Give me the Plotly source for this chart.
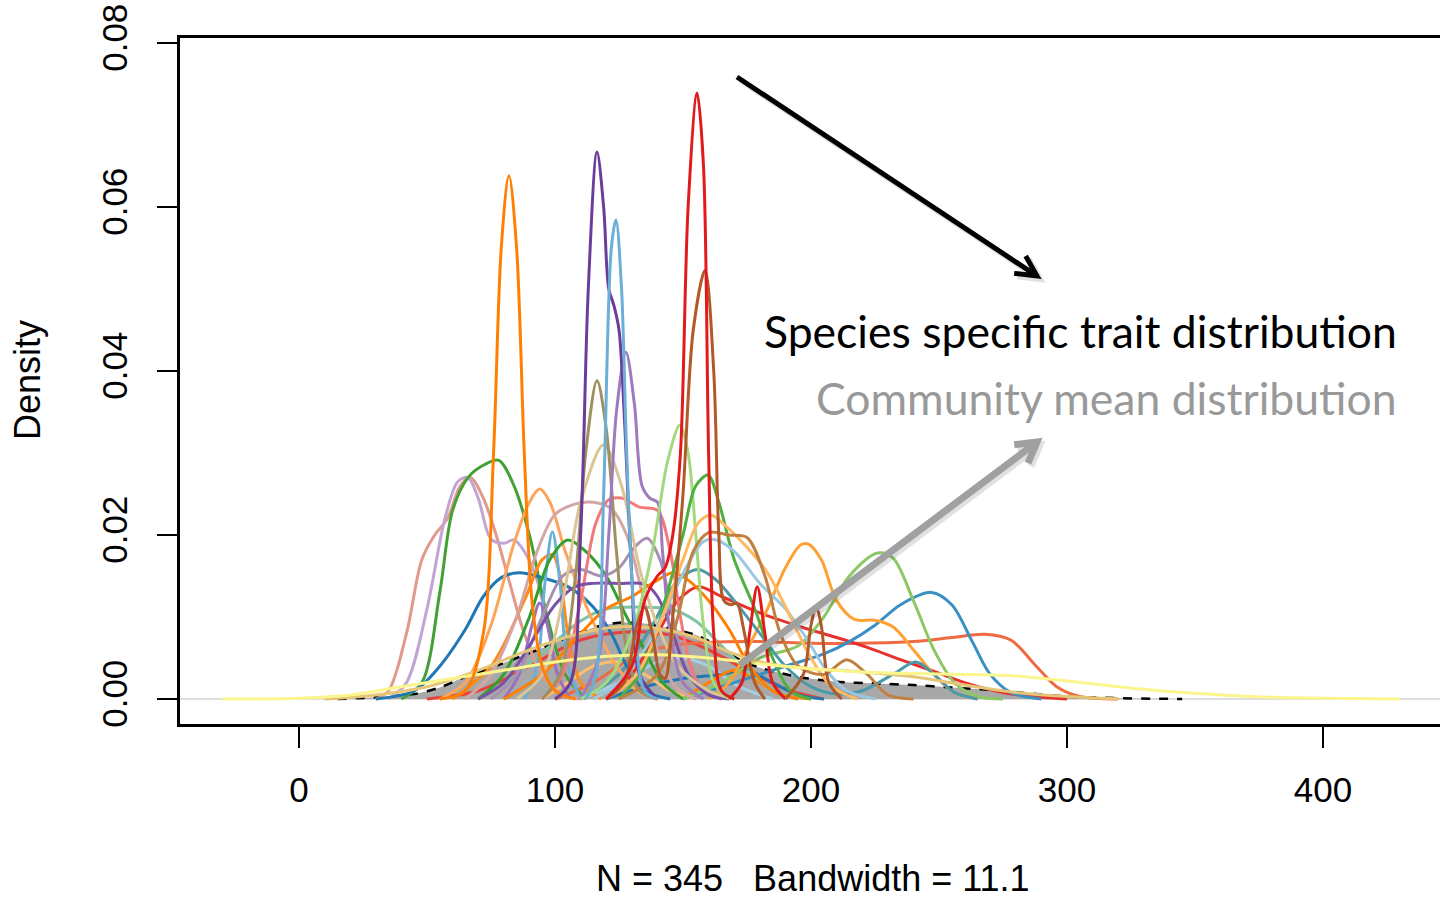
import math
import plotly.graph_objects as go

# ---------------- data ----------------
x_ticks = [0, 100, 200, 300, 400]
x_tick_labels = ["0", "100", "200", "300", "400"]
y_ticks = [0.0, 0.02, 0.04, 0.06, 0.08]
y_tick_labels = ["0.00", "0.02", "0.04", "0.06", "0.08"]

community_x = [15, 30, 45, 55, 65, 75, 85, 95, 105, 115, 125, 135, 145, 155, 163, 171, 180, 195, 210, 225, 240, 255, 270, 285, 300, 320, 345]
community_y = [0, 0.0002, 0.0006, 0.0014, 0.0027, 0.0038, 0.005, 0.0062, 0.0075, 0.0087, 0.0093, 0.0092, 0.0086, 0.0078, 0.0066, 0.005, 0.0038, 0.0027, 0.0021, 0.0019, 0.0017, 0.0014, 0.0011, 0.0007, 0.0003, 0.0001, 0]

yellow_x = [-30, 0, 20, 40, 60, 80, 100, 120, 140, 160, 180, 200, 220, 240, 260, 280, 300, 320, 340, 360, 380, 400, 430]
yellow_y = [0, 0.0001, 0.0005, 0.0015, 0.0025, 0.0035, 0.0045, 0.0052, 0.0054, 0.005, 0.0043, 0.0037, 0.0033, 0.0031, 0.003, 0.0028, 0.0022, 0.0015, 0.0009, 0.0005, 0.0002, 0.0001, 0]

tangold_x = [10, 30, 50, 70, 90, 110, 125, 140, 155, 170, 185, 200, 220, 240, 260, 280, 300, 320]
tangold_y = [0, 0.0005, 0.0015, 0.0035, 0.006, 0.008, 0.0088, 0.0086, 0.0075, 0.0055, 0.0042, 0.0037, 0.0033, 0.0027, 0.0017, 0.0008, 0.0003, 0]

redorange_x = [100, 115, 130, 145, 160, 180, 200, 220, 240, 255, 268, 278, 288, 296, 305, 320]
redorange_y = [0, 0.002, 0.005, 0.0065, 0.0069, 0.007, 0.0068, 0.0068, 0.007, 0.0075, 0.0079, 0.0072, 0.004, 0.0015, 0.0003, 0]

redlow_x = [50, 70, 90, 110, 130, 145, 160, 175, 190, 205]
redlow_y = [0, 0.001, 0.004, 0.0072, 0.0082, 0.0078, 0.006, 0.0035, 0.0012, 0]

redbroad_x = [120, 130, 140, 148, 156, 165, 180, 196, 210, 222, 235, 247, 260, 275, 290, 300]
redbroad_y = [0, 0.003, 0.008, 0.012, 0.0137, 0.0125, 0.0105, 0.0088, 0.0075, 0.0063, 0.0048, 0.0035, 0.002, 0.0008, 0.0002, 0]

blue247_x = [150, 170, 190, 205, 215, 225, 235, 247, 255, 263, 270, 278, 290]
blue247_y = [0, 0.002, 0.004, 0.0055, 0.007, 0.009, 0.0115, 0.013, 0.0115, 0.007, 0.003, 0.0008, 0]

lgreen226_x = [150, 165, 180, 195, 205, 215, 226, 232, 240, 248, 256, 265, 275]
lgreen226_y = [0, 0.002, 0.005, 0.0065, 0.01, 0.015, 0.0178, 0.0172, 0.012, 0.006, 0.002, 0.0003, 0]

orange199_x = [160, 168, 175, 183, 190, 196, 199, 204, 210, 217, 225, 232, 240, 248, 256, 265]
orange199_y = [0, 0.002, 0.006, 0.011, 0.016, 0.0188, 0.0189, 0.017, 0.012, 0.0097, 0.0096, 0.0088, 0.006, 0.003, 0.0008, 0]

teal_x = [110, 125, 138, 148, 156, 163, 170, 180, 190, 200, 210, 220, 232, 241, 248, 256, 265]
teal_y = [0, 0.003, 0.009, 0.0145, 0.0158, 0.0145, 0.012, 0.008, 0.004, 0.0015, 0.0006, 0.001, 0.003, 0.0045, 0.003, 0.0008, 0]

seafoam_x = [70, 85, 100, 110, 120, 135, 145, 155, 165, 175, 185, 195]
seafoam_y = [0, 0.003, 0.007, 0.0095, 0.011, 0.0112, 0.011, 0.0095, 0.0065, 0.0035, 0.0012, 0]

salmon_x = [30, 35, 42, 48, 53, 58, 63, 67, 72, 77, 82, 88, 95, 103, 110]
salmon_y = [0, 0.001, 0.008, 0.017, 0.02, 0.022, 0.026, 0.027, 0.0245, 0.02, 0.0145, 0.008, 0.003, 0.0005, 0]

lavender_x = [35, 42, 50, 57, 62, 66, 70, 75, 80, 84, 88, 93, 98, 104, 112]
lavender_y = [0, 0.002, 0.011, 0.022, 0.0265, 0.027, 0.0245, 0.0195, 0.019, 0.0194, 0.018, 0.0145, 0.008, 0.003, 0]

green78_x = [40, 48, 55, 60, 66, 72, 78, 84, 90, 97, 104, 112]
green78_y = [0, 0.002, 0.013, 0.023, 0.027, 0.0285, 0.0291, 0.026, 0.02, 0.01, 0.003, 0]

blue86_x = [30, 45, 55, 65, 72, 79, 86, 95, 105, 115, 122, 128, 135, 145]
blue86_y = [0, 0.001, 0.004, 0.0085, 0.0125, 0.0148, 0.0154, 0.0148, 0.0137, 0.0112, 0.008, 0.004, 0.001, 0]

peach94_x = [55, 65, 75, 84, 90, 94, 98, 104, 110, 117, 124, 132, 140]
peach94_y = [0, 0.002, 0.009, 0.019, 0.024, 0.0256, 0.024, 0.018, 0.013, 0.008, 0.004, 0.001, 0]

orange99_x = [60, 75, 88, 95, 99, 102, 105, 110, 118]
orange99_y = [0, 0.004, 0.012, 0.017, 0.0176, 0.015, 0.008, 0.002, 0]

ltblue99_x = [88, 93, 96, 99, 102, 105, 110]
ltblue99_y = [0, 0.004, 0.014, 0.0204, 0.014, 0.004, 0]

purple94_x = [80, 86, 91, 94, 97, 101, 106]
purple94_y = [0, 0.003, 0.009, 0.0117, 0.009, 0.003, 0]

green105_x = [70, 80, 90, 98, 105, 112, 120, 128, 135, 142, 150]
green105_y = [0, 0.003, 0.01, 0.017, 0.0194, 0.018, 0.015, 0.01, 0.006, 0.002, 0]

dustypink_x = [65, 75, 85, 93, 100, 108, 115, 122, 128, 134, 140, 147, 155]
dustypink_y = [0, 0.003, 0.01, 0.018, 0.0225, 0.0238, 0.024, 0.0232, 0.02, 0.013, 0.006, 0.0015, 0]

pinkred_x = [95, 103, 110, 116, 121, 126, 133, 140, 145, 149, 153, 158, 165]
pinkred_y = [0, 0.003, 0.012, 0.0215, 0.0243, 0.0245, 0.0234, 0.023, 0.018, 0.01, 0.004, 0.001, 0]

graypurple_x = [75, 85, 95, 103, 110, 118, 125, 131, 136, 141, 146, 151, 158, 165]
graypurple_y = [0, 0.003, 0.01, 0.015, 0.0158, 0.015, 0.016, 0.0185, 0.0196, 0.017, 0.01, 0.004, 0.001, 0]

purplebroad_x = [70, 80, 90, 100, 108, 115, 125, 135, 140, 146, 152, 160, 168]
purplebroad_y = [0, 0.002, 0.0065, 0.0115, 0.0137, 0.0141, 0.0141, 0.014, 0.0125, 0.008, 0.003, 0.0005, 0]

orangebroad_x = [80, 95, 110, 120, 130, 140, 146, 152, 160, 168, 176, 185, 195]
orangebroad_y = [0, 0.003, 0.008, 0.011, 0.0125, 0.0145, 0.0154, 0.0145, 0.012, 0.0085, 0.004, 0.001, 0]

tan119_x = [85, 95, 103, 110, 119, 126, 133, 140, 148, 160, 170]
tan119_y = [0, 0.003, 0.012, 0.024, 0.031, 0.026, 0.016, 0.009, 0.004, 0.001, 0]

khaki_x = [95, 102, 108, 112, 116.4, 120, 124, 128, 133, 140]
khaki_y = [0, 0.003, 0.015, 0.03, 0.0388, 0.033, 0.018, 0.006, 0.001, 0]

lpurple_x = [110, 117, 121, 124, 127.7, 131, 134, 137, 140, 142, 145, 150, 158]
lpurple_y = [0, 0.005, 0.02, 0.035, 0.0423, 0.036, 0.026, 0.0245, 0.024, 0.018, 0.008, 0.002, 0]

lgreen149_x = [110, 120, 130, 138, 144, 148.8, 152, 155, 158, 162, 168]
lgreen149_y = [0, 0.002, 0.008, 0.018, 0.029, 0.0334, 0.03, 0.02, 0.009, 0.002, 0]

green160_x = [125, 135, 143, 150, 155, 159.8, 164, 170, 178, 185, 192, 200]
green160_y = [0, 0.004, 0.012, 0.02, 0.026, 0.0273, 0.024, 0.017, 0.011, 0.005, 0.001, 0]

ltbluebroad_x = [115, 125, 135, 145, 152, 158, 163, 170, 180, 190, 198, 206, 214, 225]
ltbluebroad_y = [0, 0.002, 0.006, 0.012, 0.0165, 0.0192, 0.0194, 0.018, 0.0141, 0.011, 0.0075, 0.0035, 0.001, 0]

lorange161_x = [120, 132, 142, 150, 156, 161, 167, 175, 183, 192, 200, 208, 218]
lorange161_y = [0, 0.003, 0.01, 0.017, 0.0215, 0.0224, 0.021, 0.0185, 0.0154, 0.01, 0.005, 0.0015, 0]

tanbrown_x = [125, 140, 148, 154, 160, 168, 175, 182, 188, 195, 205, 214, 222, 230, 240]
tanbrown_y = [0, 0.003, 0.01, 0.018, 0.0203, 0.02, 0.0197, 0.015, 0.008, 0.004, 0.003, 0.0048, 0.003, 0.0005, 0]

red179_x = [168, 173, 176, 179, 182, 185, 190]
red179_y = [0, 0.002, 0.008, 0.0137, 0.008, 0.002, 0]

brown202_x = [190, 197, 200, 202, 204, 207, 212]
brown202_y = [0, 0.003, 0.009, 0.0112, 0.009, 0.002, 0]

ltbluelow_x = [110, 125, 140, 150, 160, 172, 185]
ltbluelow_y = [0, 0.002, 0.0045, 0.005, 0.004, 0.0015, 0]

bluelow_x = [120, 135, 150, 165, 175, 185, 195, 205]
bluelow_y = [0, 0.0015, 0.0025, 0.003, 0.0035, 0.002, 0.0005, 0]

orangelow_x = [150, 160, 170, 180, 190, 200]
orangelow_y = [0, 0.002, 0.0035, 0.002, 0.0005, 0]

peachlow_x = [95, 105, 115, 125, 135, 145, 155]
peachlow_y = [0, 0.002, 0.004, 0.0045, 0.003, 0.001, 0]

orange82_x = [55, 65, 72, 76, 79, 82, 85, 88, 91, 95, 100, 108]
orange82_y = [0, 0.001, 0.008, 0.03, 0.055, 0.0638, 0.055, 0.03, 0.012, 0.004, 0.001, 0]

purple116_x = [100, 106, 110, 113, 116.4, 119, 121, 123, 125, 127, 130, 133, 140]
purple116_y = [0, 0.002, 0.02, 0.05, 0.0667, 0.06, 0.05, 0.048, 0.045, 0.035, 0.015, 0.003, 0]

blue124_x = [112, 116, 119, 122, 123.8, 126, 128, 131, 135, 140]
blue124_y = [0, 0.003, 0.025, 0.055, 0.0584, 0.05, 0.03, 0.01, 0.001, 0]

brown159_x = [120, 127, 132, 135, 138, 141, 143, 146, 150, 154, 158.6, 162, 164, 166, 169, 171, 174, 178, 182]
brown159_y = [0, 0.002, 0.009, 0.0112, 0.008, 0.003, 0.0025, 0.01, 0.025, 0.045, 0.0523, 0.04, 0.02, 0.012, 0.0115, 0.0117, 0.008, 0.002, 0]

red155_x = [120, 130, 135, 140, 143, 146, 149, 152, 155.5, 158, 160, 162, 165, 170]
red155_y = [0, 0.004, 0.012, 0.015, 0.016, 0.02, 0.03, 0.06, 0.0739, 0.065, 0.03, 0.008, 0.001, 0]

# drawing order and colours (style, kept apart from the data)
curves = [
    (redlow_x, redlow_y, "#E8403A"),
    (ltbluelow_x, ltbluelow_y, "#A6CEE3"),
    (bluelow_x, bluelow_y, "#1F78B4"),
    (peachlow_x, peachlow_y, "#FDBF6F"),
    (orangelow_x, orangelow_y, "#FF7F00"),
    (seafoam_x, seafoam_y, "#7DC4A4"),
    (redorange_x, redorange_y, "#EE6A40"),
    (redbroad_x, redbroad_y, "#E8302C"),
    (blue247_x, blue247_y, "#3A8FC4"),
    (lgreen226_x, lgreen226_y, "#8CC864"),
    (orange199_x, orange199_y, "#FFA033"),
    (teal_x, teal_y, "#4A9AAA"),
    (salmon_x, salmon_y, "#E0998A"),
    (lavender_x, lavender_y, "#C3A5D3"),
    (green78_x, green78_y, "#43A035"),
    (blue86_x, blue86_y, "#1F78B4"),
    (peach94_x, peach94_y, "#FDA55A"),
    (orange99_x, orange99_y, "#FF8C1A"),
    (ltblue99_x, ltblue99_y, "#6BAED6"),
    (purple94_x, purple94_y, "#9A70C0"),
    (green105_x, green105_y, "#33A02C"),
    (dustypink_x, dustypink_y, "#D4A5A5"),
    (pinkred_x, pinkred_y, "#F47878"),
    (graypurple_x, graypurple_y, "#A890B0"),
    (purplebroad_x, purplebroad_y, "#7A50A8"),
    (orangebroad_x, orangebroad_y, "#FF8000"),
    (tan119_x, tan119_y, "#D9C596"),
    (khaki_x, khaki_y, "#A09060"),
    (lpurple_x, lpurple_y, "#9E7BBE"),
    (lgreen149_x, lgreen149_y, "#A3D97E"),
    (green160_x, green160_y, "#4DB040"),
    (ltbluebroad_x, ltbluebroad_y, "#9BC8E0"),
    (lorange161_x, lorange161_y, "#FDB860"),
    (tanbrown_x, tanbrown_y, "#C08040"),
    (red179_x, red179_y, "#E31A1C"),
    (brown202_x, brown202_y, "#B15928"),
    (tangold_x, tangold_y, "#E5C678"),
    (yellow_x, yellow_y, "#FAF58C"),
    (orange82_x, orange82_y, "#FF7F00"),
    (purple116_x, purple116_y, "#6A3D9A"),
    (blue124_x, blue124_y, "#6BAED6"),
    (brown159_x, brown159_y, "#B15928"),
    (red155_x, red155_y, "#E31A1C"),
]

# ---------------- figure ----------------
W, H = 1440, 899
L, R, T, B = 180, 0, 38, 175
PW, PH = W - L - R, H - T - B

fig = go.Figure()
fig.add_trace(go.Scatter(x=community_x, y=community_y, mode="lines", fill="tozeroy",
                         fillcolor="#A8A8A8", line=dict(width=0, shape="spline", smoothing=0.7),
                         hoverinfo="skip", showlegend=False))
fig.add_trace(go.Scatter(x=community_x, y=community_y, mode="lines",
                         line=dict(color="black", width=2.5, dash="dash", shape="spline", smoothing=0.7),
                         hoverinfo="skip", showlegend=False))
for xs, ys, col in curves:
    fig.add_trace(go.Scatter(x=xs, y=ys, mode="lines",
                             line=dict(color=col, width=3, shape="spline", smoothing=0.9),
                             hoverinfo="skip", showlegend=False))


def pp(px, py):
    return ((px - L) / PW, (H - B - py) / PH)


def arrow_path(tail, tip, arm_len, arm_deg):
    dx, dy = tip[0] - tail[0], tip[1] - tail[1]
    n = math.hypot(dx, dy)
    ux, uy = dx / n, dy / n
    pts = []
    for s in (1, -1):
        a = math.radians(arm_deg * s)
        rx = ux * math.cos(a) - uy * math.sin(a)
        ry = ux * math.sin(a) + uy * math.cos(a)
        pts.append((tip[0] - arm_len * rx, tip[1] - arm_len * ry))
    def f(p):
        x, y = pp(*p)
        return f"{x:.5f},{y:.5f}"
    return (f"M{f(tail)} L{f(tip)} M{f(pts[0])} L{f(tip)} L{f(pts[1])}")


shapes = [
    dict(type="line", xref="paper", yref="y", x0=0, x1=1, y0=0, y1=0,
         line=dict(color="#BEBEBE", width=1), layer="below"),
]
shapes.append(dict(type="path", xref="paper", yref="paper",
                   path=arrow_path((740, 80), (1040, 279), 23, 27),
                   line=dict(color="rgba(0,0,0,0.12)", width=6)))
shapes.append(dict(type="path", xref="paper", yref="paper",
                   path=arrow_path((743, 668), (1040, 445), 23, 30),
                   line=dict(color="rgba(0,0,0,0.12)", width=7)))
shapes.append(dict(type="path", xref="paper", yref="paper",
                   path=arrow_path((737, 77), (1037, 276), 23, 27),
                   line=dict(color="black", width=5)))
shapes.append(dict(type="path", xref="paper", yref="paper",
                   path=arrow_path((740, 665), (1037, 442), 23, 30),
                   line=dict(color="#A0A0A0", width=7)))

tick_font = dict(family="Liberation Sans, Arial, Helvetica, sans-serif", size=35, color="black")
title_font = dict(family="Liberation Sans, Arial, Helvetica, sans-serif", size=36, color="black")

annotations = [
    dict(text="Density", xref="paper", yref="paper", x=pp(28, 380)[0], y=pp(28, 380)[1],
         textangle=-90, showarrow=False, xanchor="center", yanchor="middle", font=title_font),
    dict(text="N = 345\u00a0\u00a0 Bandwidth = 11.1", xref="paper", yref="paper",
         x=pp(813, 878)[0], y=pp(813, 878)[1], showarrow=False,
         xanchor="center", yanchor="middle", font=title_font),
    dict(text="Species specific trait distribution", xref="paper", yref="paper",
         x=pp(1399, 330)[0], y=pp(1399, 330)[1], showarrow=False, xanchor="right", yanchor="middle",
         font=dict(family="Lato, Open Sans, sans-serif", size=44.5, color="black")),
    dict(text="Community mean distribution", xref="paper", yref="paper",
         x=pp(1399, 398)[0], y=pp(1399, 398)[1], showarrow=False, xanchor="right", yanchor="middle",
         font=dict(family="Lato, Open Sans, sans-serif", size=44.5, color="#999999")),
]

x0 = -(299 - L) / 2.56
x1 = x0 + PW / 2.56
y0 = -(H - B - 699) / 8200
y1 = y0 + PH / 8200

fig.update_layout(
    width=W, height=H, margin=dict(l=L, r=R, t=T, b=B, pad=0),
    paper_bgcolor="white", plot_bgcolor="white", showlegend=False,
    shapes=shapes, annotations=annotations,
)
fig.update_xaxes(range=[x0, x1], tickmode="array", tickvals=x_ticks, ticktext=x_tick_labels,
                 ticks="outside", ticklen=21, tickwidth=1.5, tickcolor="black",
                 showline=True, linewidth=2.5, linecolor="black", mirror=True,
                 showgrid=False, zeroline=False, tickfont=tick_font, ticklabelstandoff=12)
fig.update_yaxes(range=[y0, y1], tickmode="array", tickvals=y_ticks, ticktext=y_tick_labels,
                 tickangle=-90, ticks="outside", ticklen=20, tickwidth=1.5, tickcolor="black",
                 showline=True, linewidth=2.5, linecolor="black", mirror=False,
                 showgrid=False, zeroline=False, tickfont=tick_font, ticklabelstandoff=16,
                 ticklabeloverflow="allow")

fig.write_html("out.html")
